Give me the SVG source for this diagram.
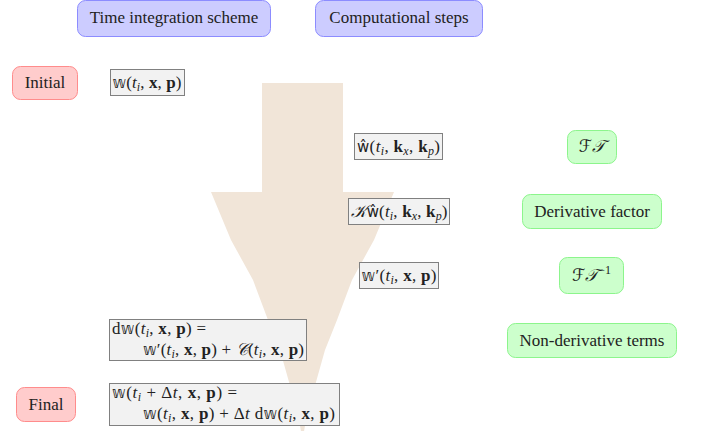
<svg xmlns="http://www.w3.org/2000/svg" width="704" height="431" viewBox="0 0 704 431">
<style>
text{font-family:"Liberation Serif","DejaVu Serif",serif;font-size:17px;fill:#222}
.c{text-anchor:middle}
.blue{fill:#CCCCFF;stroke:#8C8CFF;stroke-width:1}
.red{fill:#FFCCCC;stroke:#FF8C8C;stroke-width:1}
.green{fill:#CCFFCC;stroke:#8CF58C;stroke-width:1}
.gray{fill:#F2F2F2;stroke:#808080;stroke-width:1}
.it{font-style:italic}
.bf{font-weight:bold}
.bb{font-family:"DejaVu Sans","Noto Sans",sans-serif;font-size:15px}
.cal{font-family:"DejaVu Sans","Noto Sans",sans-serif;font-style:italic}
.sub{font-size:12px;font-style:italic}
</style>
<g id="flow-arrow">
<path d="M262,83 H343 V192 H394 L374,240 L352,280 L337,320 L325,350 L316,382 L306,420 L302.5,440 L299,420 L289,382 L280,350 L268,320 L253,280 L231,240 L211,192 H262 Z" fill="#F1E5D8"/>
</g>
<g id="connectors"></g>
<g id="hdr-time">
<rect class="blue" x="77.5" y="0.5" width="193" height="36" rx="8"/>
<text class="c" x="174" y="23">Time integration scheme</text>
</g>
<g id="hdr-comp">
<rect class="blue" x="315.5" y="0.5" width="167" height="36" rx="8"/>
<text class="c" x="399" y="23">Computational steps</text>
</g>
<g id="initial">
<rect class="red" x="12.5" y="66.5" width="65" height="33" rx="8"/>
<text class="c" x="45" y="88">Initial</text>
</g>
<g id="w-init">
<rect class="gray" x="110.5" y="69.5" width="74" height="26"/>
<text class="c" x="147" y="88" textLength="69" lengthAdjust="spacing"><tspan class="bb">𝕨</tspan>(<tspan class="it">t</tspan><tspan class="sub" dy="3">i</tspan><tspan dy="-3">, </tspan><tspan class="bf">x</tspan>, <tspan class="bf">p</tspan>)</text>
</g>
<g id="w-hat">
<rect class="gray" x="354.5" y="133.5" width="88" height="26"/>
<text class="c" x="398.5" y="152" textLength="83" lengthAdjust="spacing"><tspan class="bb">ŵ</tspan>(<tspan class="it">t</tspan><tspan class="sub" dy="3">i</tspan><tspan dy="-3">, </tspan><tspan class="bf">k</tspan><tspan class="sub" dy="3">x</tspan><tspan dy="-3">, </tspan><tspan class="bf">k</tspan><tspan class="sub" dy="3">p</tspan><tspan dy="-3">)</tspan></text>
</g>
<g id="k-w-hat">
<rect class="gray" x="348.5" y="198.5" width="101" height="26"/>
<text class="c" x="399" y="217" textLength="97" lengthAdjust="spacing"><tspan class="cal">𝒦</tspan><tspan class="bb">ŵ</tspan>(<tspan class="it">t</tspan><tspan class="sub" dy="3">i</tspan><tspan dy="-3">, </tspan><tspan class="bf">k</tspan><tspan class="sub" dy="3">x</tspan><tspan dy="-3">, </tspan><tspan class="bf">k</tspan><tspan class="sub" dy="3">p</tspan><tspan dy="-3">)</tspan></text>
</g>
<g id="w-prime">
<rect class="gray" x="359.5" y="262.5" width="79" height="26"/>
<text class="c" x="399" y="281" textLength="75" lengthAdjust="spacing"><tspan class="bb">𝕨</tspan>′(<tspan class="it">t</tspan><tspan class="sub" dy="3">i</tspan><tspan dy="-3">, </tspan><tspan class="bf">x</tspan>, <tspan class="bf">p</tspan>)</text>
</g>
<g id="ft">
<rect class="green" x="567.5" y="130.5" width="49" height="33" rx="8"/>
<text class="c" x="592" y="152"><tspan class="cal">ℱ𝒯</tspan></text>
</g>
<g id="deriv-factor">
<rect class="green" x="522.5" y="194.5" width="139" height="34" rx="8"/>
<text class="c" x="592" y="217">Derivative factor</text>
</g>
<g id="ift">
<rect class="green" x="559.5" y="257.5" width="64" height="36" rx="8"/>
<text class="c" x="591.5" y="281"><tspan class="cal">ℱ𝒯</tspan><tspan font-size="12" dy="-7">−1</tspan></text>
</g>
<g id="non-deriv">
<rect class="green" x="507.5" y="323.5" width="169" height="34" rx="8"/>
<text class="c" x="592" y="346">Non-derivative terms</text>
</g>
<g id="dw">
<rect class="gray" x="109.5" y="319.5" width="197" height="41"/>
<text x="112" y="334" textLength="94" lengthAdjust="spacing">d<tspan class="bb">𝕨</tspan>(<tspan class="it">t</tspan><tspan class="sub" dy="3">i</tspan><tspan dy="-3">, </tspan><tspan class="bf">x</tspan>, <tspan class="bf">p</tspan>) =</text>
<text x="143" y="355" textLength="161" lengthAdjust="spacing"><tspan class="bb">𝕨</tspan>′(<tspan class="it">t</tspan><tspan class="sub" dy="3">i</tspan><tspan dy="-3">, </tspan><tspan class="bf">x</tspan>, <tspan class="bf">p</tspan>) + <tspan class="cal">𝒞</tspan>(<tspan class="it">t</tspan><tspan class="sub" dy="3">i</tspan><tspan dy="-3">, </tspan><tspan class="bf">x</tspan>, <tspan class="bf">p</tspan>)</text>
</g>
<g id="final">
<rect class="red" x="16.5" y="387.5" width="59" height="34" rx="8"/>
<text class="c" x="46" y="410">Final</text>
</g>
<g id="w-next">
<rect class="gray" x="109.5" y="383.5" width="230" height="42"/>
<text x="112" y="398" textLength="125" lengthAdjust="spacing"><tspan class="bb">𝕨</tspan>(<tspan class="it">t</tspan><tspan class="sub" dy="3">i</tspan><tspan dy="-3"> + Δ</tspan><tspan class="it">t</tspan>, <tspan class="bf">x</tspan>, <tspan class="bf">p</tspan>) =</text>
<text x="143" y="419" textLength="192" lengthAdjust="spacing"><tspan class="bb">𝕨</tspan>(<tspan class="it">t</tspan><tspan class="sub" dy="3">i</tspan><tspan dy="-3">, </tspan><tspan class="bf">x</tspan>, <tspan class="bf">p</tspan>) + Δ<tspan class="it">t</tspan> d<tspan class="bb">𝕨</tspan>(<tspan class="it">t</tspan><tspan class="sub" dy="3">i</tspan><tspan dy="-3">, </tspan><tspan class="bf">x</tspan>, <tspan class="bf">p</tspan>)</text>
</g>
</svg>
